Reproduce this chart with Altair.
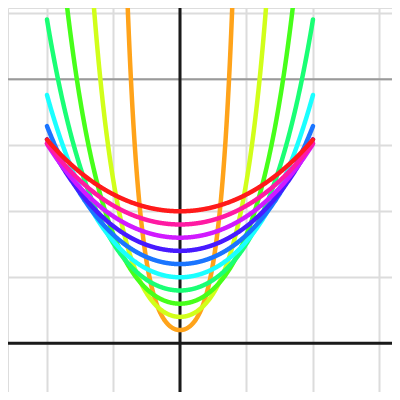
import altair as alt
import pandas as pd

# Parameters of the curve family y = a*cosh(x/a), x in [-2, 2]
A_VALUES = [0.2, 0.4, 0.6, 0.8, 1.0, 1.2, 1.4, 1.6, 1.8, 2.0]
COLORS = ["#ffa31a", "#d1ff1a", "#47ff1a", "#1aff75", "#1affff",
          "#1a75ff", "#471aff", "#d11aff", "#ff1aa3", "#ff1a1a"]
X_START, X_END, X_STEP = -2.0, 2.0, 0.005
X_GRID = [-2, -1, 0, 1, 2, 3]
Y_GRID = [0, 1, 2, 3, 4, 5]
HLINE_Y = 4

x_scale = alt.Scale(domain=[-2.586, 3.188], nice=False, zero=False)
y_scale = alt.Scale(domain=[-0.738, 5.08], nice=False, zero=False)

grid_axis_x = alt.Axis(values=X_GRID, grid=True, labels=False, ticks=False,
                       domain=False, title=None, gridColor="#dcdcdc", gridWidth=2)
grid_axis_y = alt.Axis(values=Y_GRID, grid=True, labels=False, ticks=False,
                       domain=False, title=None, gridColor="#dcdcdc", gridWidth=2)

grid_df = pd.DataFrame({"x": [0], "y": [0]})
base = alt.Chart(grid_df).mark_point(opacity=0).encode(
    x=alt.X("x:Q", scale=x_scale, axis=grid_axis_x),
    y=alt.Y("y:Q", scale=y_scale, axis=grid_axis_y),
)

hline = alt.Chart(pd.DataFrame({"y": [HLINE_Y]})).mark_rule(
    color="#9a9a9a", strokeWidth=2).encode(y=alt.Y("y:Q", scale=y_scale))

x_axis_line = alt.Chart(pd.DataFrame({"y": [0]})).mark_rule(
    color="#1a1a1a", strokeWidth=3).encode(y=alt.Y("y:Q", scale=y_scale))
y_axis_line = alt.Chart(pd.DataFrame({"x": [0]})).mark_rule(
    color="#1a1a1a", strokeWidth=3).encode(x=alt.X("x:Q", scale=x_scale))

curves = []
for a, c in zip(A_VALUES, COLORS):
    curve = alt.Chart(alt.sequence(X_START, X_END + X_STEP / 2, X_STEP, as_="x")).transform_calculate(
        y=f"{a} * (exp(datum.x / {a}) + exp(-datum.x / {a})) / 2"
    ).mark_line(color=c, strokeWidth=4.5, strokeCap="round", strokeJoin="round", clip=True).encode(
        x=alt.X("x:Q", scale=x_scale),
        y=alt.Y("y:Q", scale=y_scale),
    )
    curves.append(curve)

chart = alt.layer(base, hline, x_axis_line, y_axis_line, *curves).properties(
    width=384, height=384,
    autosize=alt.AutoSizeParams(type="none"),
    padding=0,
).configure_view(stroke=None).configure(background="white")

chart.save("out.html", embed_options={"renderer": "svg", "actions": False})
